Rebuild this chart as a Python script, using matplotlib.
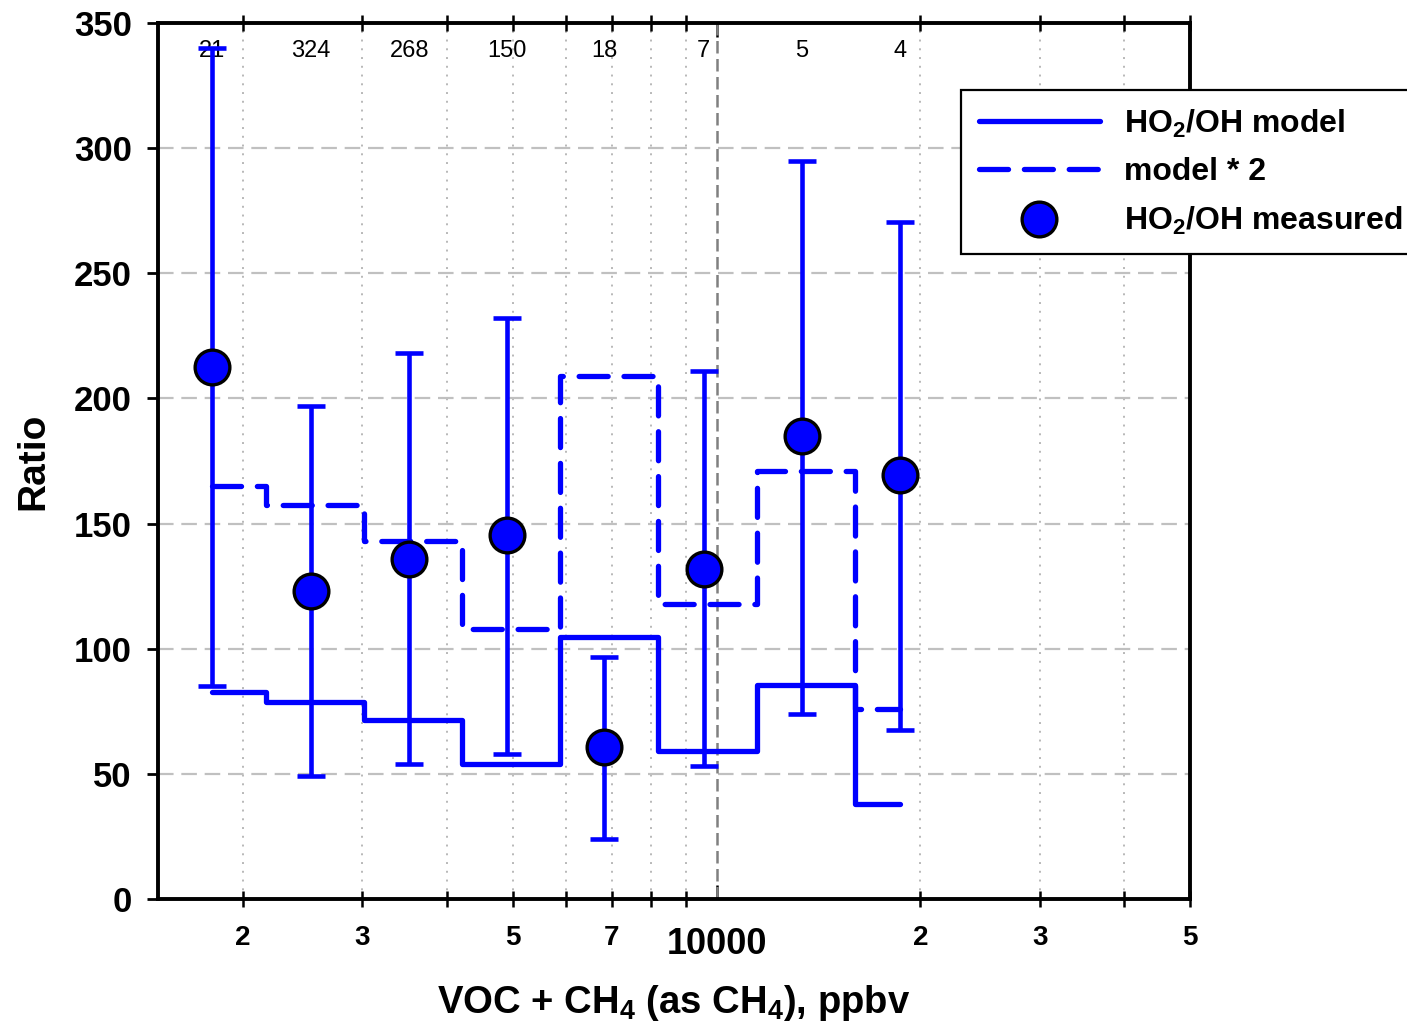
# HO2/OH ratio vs VOC + CH4 reactivity bins

import numpy as np
import matplotlib.pyplot as plt
from matplotlib.ticker import FixedLocator, FuncFormatter

plt.rcParams['font.family'] = ['Liberation Sans', 'DejaVu Sans']
plt.rcParams['mathtext.fontset'] = 'custom'
plt.rcParams['mathtext.rm'] = 'Liberation Sans:bold'
plt.rcParams['mathtext.it'] = 'Liberation Sans:bold'
plt.rcParams['mathtext.bf'] = 'Liberation Sans:bold'
plt.rcParams['mathtext.default'] = 'rm'

# bin centres (ppbv, as CH4)
voc = [1800, 2520, 3520, 4910, 6830, 9570, 13350, 18630]
model = [82.7, 78.7, 71.5, 54.0, 104.7, 59.0, 85.5, 38.0]
model_x2 = [165.0, 157.5, 143.0, 108.0, 209.0, 118.0, 171.0, 76.0]
measured = [212.5, 123.0, 136.0, 145.5, 60.7, 132.0, 185.0, 169.5]
err_hi = [340.0, 197.0, 218.0, 232.0, 96.7, 211.0, 295.0, 270.5]
err_lo = [85.0, 49.0, 54.0, 58.0, 24.0, 53.0, 74.0, 67.5]
counts = [21, 324, 268, 150, 18, 7, 5, 4]

minor_ticks = [2000, 3000, 4000, 5000, 6000, 7000, 8000, 9000, 20000, 30000, 40000, 50000]
minor_labels = {2000: '2', 3000: '3', 5000: '5', 7000: '7', 20000: '2', 30000: '3', 50000: '5'}

BLUE = '#0000ff'

fig = plt.figure(figsize=(14.07, 10.25), dpi=100)
ax = fig.add_axes([158/1407, 1 - 899/1025, (1190 - 158)/1407, (899 - 23)/1025])

ax.set_xscale('log')
ax.set_xlim(1497, 50000)
ax.set_ylim(0, 350)

# grid
ax.xaxis.set_major_locator(FixedLocator([10000]))
ax.xaxis.set_minor_locator(FixedLocator(minor_ticks))
ax.xaxis.set_major_formatter(FuncFormatter(lambda v, p: '10000'))
ax.xaxis.set_minor_formatter(FuncFormatter(lambda v, p: minor_labels.get(int(round(v)), '')))
ax.set_yticks(np.arange(0, 351, 50))
ax.grid(axis='y', which='major', color='#c0c0c0', lw=1.6, linestyle=(0, (7, 3.5)))
ax.grid(axis='x', which='minor', color='#b8b8b8', lw=1.4, linestyle=(0, (1, 3.5)))
ax.set_axisbelow(True)
ax.axvline(10000, color='#808080', lw=1.8, linestyle=(0, (5, 2.2)), zorder=1)

# model steps
ax.plot(voc, model, drawstyle='steps-mid', color=BLUE, lw=3.8,
        solid_joinstyle='round', solid_capstyle='round', zorder=3, label='HO$_2$/OH model')
ax.plot(voc, model_x2, drawstyle='steps-mid', color=BLUE, lw=3.8,
        linestyle=(0, (5.5, 3)), dash_capstyle='round', dash_joinstyle='round',
        zorder=3, label='model * 2')

# measured with error bars
meas = np.array(measured)
yerr = [meas - np.array(err_lo), np.array(err_hi) - meas]
ax.errorbar(voc, measured, yerr=yerr, fmt='none', ecolor=BLUE, elinewidth=3.3,
            capsize=10, capthick=3.3, zorder=4)
ax.plot(voc, measured, 'o', ms=25, mfc=BLUE, mec='black', mew=2.4, zorder=5,
        label='HO$_2$/OH measured')

for x, n in zip(voc, counts):
    ax.text(x, 339, str(n), ha='center', va='center', fontsize=17, zorder=2)

# ticks & spines
for s in ax.spines.values():
    s.set_linewidth(2.8)
ax.tick_params(axis='y', which='major', direction='out', length=8, width=2,
               labelsize=25, pad=11, right=False)
ax.tick_params(axis='x', which='minor', direction='inout', length=12, width=1.8,
               labelsize=20, pad=13, top=True)
ax.tick_params(axis='x', which='major', direction='in', length=10, width=1.8,
               labelsize=26, pad=20, top=True)
for lab in ax.get_yticklabels() + ax.get_xticklabels(which='both'):
    lab.set_fontweight('bold')

ax.set_ylabel('Ratio', fontsize=28, fontweight='bold', labelpad=16)
ax.set_xlabel('VOC + CH$_4$ (as CH$_4$), ppbv', fontsize=27.5, fontweight='bold', labelpad=15)

leg = fig.legend(loc='upper left', bbox_to_anchor=(961/1407, 1 - 90/1025),
                 prop={'weight': 'bold', 'size': 23},
                 handlelength=3.8, handletextpad=0.75, numpoints=1,
                 borderpad=0.55, labelspacing=0.55, fancybox=False,
                 framealpha=1, edgecolor='black', borderaxespad=0)
leg.get_frame().set_linewidth(1.6)

fig.savefig('out.png', dpi=100)
